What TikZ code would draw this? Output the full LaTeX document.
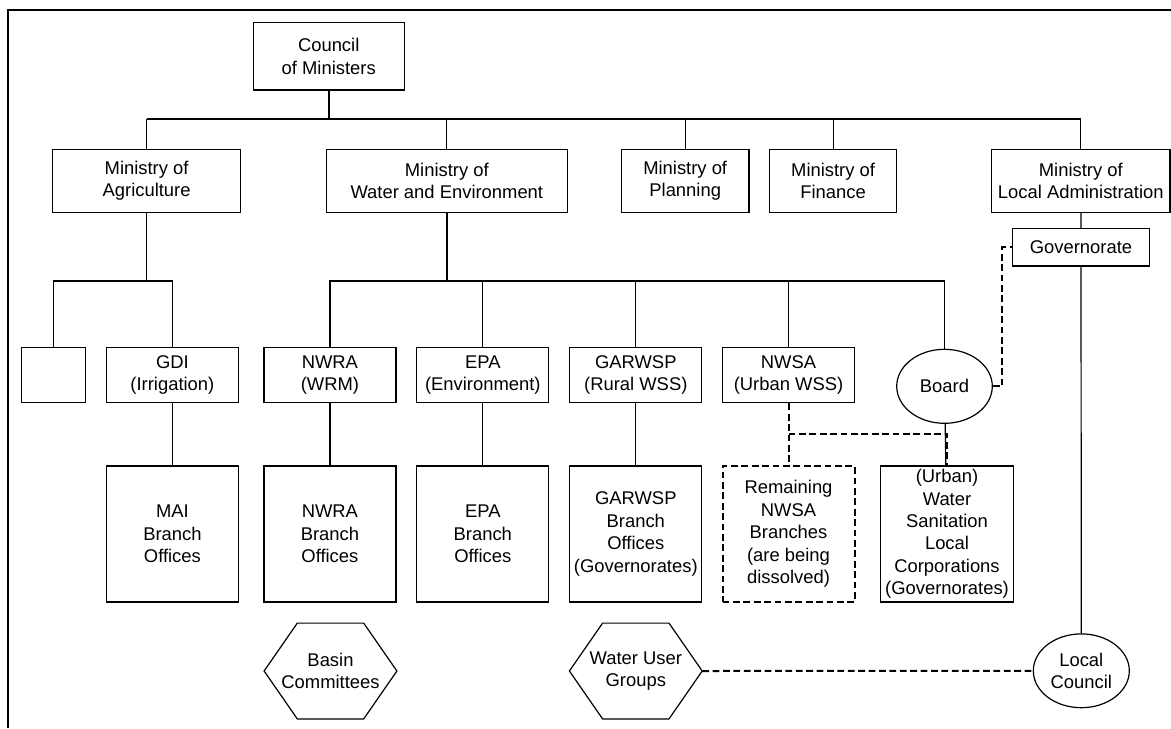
\documentclass[tikz,border=0pt]{standalone}
\usepackage{fontspec}
\setmainfont{Liberation Sans}
\usepackage{tikz}
\usetikzlibrary{shapes.geometric,calc}
\tikzset{
  unit/.style ={draw, align=center, inner sep=0pt, line width=0.6pt,
                minimum width=66pt, minimum height=27.7pt},
  mbox/.style ={unit, minimum height=31.5pt},
  office/.style={unit, minimum height=68pt},
  dunit/.style={office, dash pattern=on 3.4pt off 1.8pt, line width=1pt},
  ellip/.style={draw, ellipse, align=center, inner sep=0pt, line width=0.6pt,
                minimum width=47.8pt, minimum height=37pt},
  hexa/.style ={align=center, inner sep=0pt, minimum width=66pt, minimum height=47.5pt},
  link/.style ={line width=0.6pt},
  trunk/.style={line width=0.9pt},
  dlink/.style={line width=1pt, dash pattern=on 3.4pt off 1.8pt},
}

\begin{document}
\begin{tikzpicture}[x=0.5pt, y=-0.5pt, every node/.style={font=\fontsize{9.2}{11.2}\selectfont}]
  \useasboundingbox (0,0) rectangle (1171,728);
  \draw[link] (1171,10) -- (8,10) -- (8,728);
  % top level
  \node[unit, minimum width=75.4pt, minimum height=33.7pt] (council) at (328.7,56.3) {Council\\of Ministers};
  % ministries
  \node[mbox, minimum width=93.8pt]  (agri)     at (146.6,180.8)  {Ministry of\\Agriculture};
  \node[mbox, minimum width=120.4pt] (water)    at (446.8,180.8)  {Ministry of\\Water and Environment};
  \node[mbox, minimum width=63.7pt]  (plan)     at (685.2,180.8)  {Ministry of\\Planning};
  \node[mbox, minimum width=63.5pt]  (fin)      at (833.1,180.8)  {Ministry of\\Finance};
  \node[mbox, minimum width=89.2pt]  (localadm) at (1080.8,180.8) {Ministry of\\Local Administration};
  \node[unit, minimum width=68.3pt, minimum height=18.7pt] (gov) at (1081,247.3) {Governorate};
  % agencies
  \node[unit, minimum width=31.8pt] (blank)  at (53.6,375)  {};
  \node[unit] (gdi)    at (172.4,375) {GDI\\(Irrigation)};
  \node[unit] (nwra)   at (329.9,375) {NWRA\\(WRM)};
  \node[unit] (epa)    at (482.8,375) {EPA\\(Environment)};
  \node[unit] (garwsp) at (635.8,375) {GARWSP\\(Rural WSS)};
  \node[unit] (nwsa)   at (788.5,375) {NWSA\\(Urban WSS)};
  \node[ellip] (board) at (944.5,386.3) {Board};
  % branch offices
  \node[office] (mai)     at (172.4,534) {MAI\\Branch\\Offices};
  \node[office] (nwrab)   at (329.9,534) {NWRA\\Branch\\Offices};
  \node[office] (epab)    at (482.8,534) {EPA\\Branch\\Offices};
  \node[office] (garwspb) at (635.8,534) {GARWSP\\Branch\\Offices\\(Governorates)};
  \node[dunit]  (remain)  at (788.5,534) {Remaining\\NWSA\\Branches\\(are being\\dissolved)};
  \node[office, minimum width=66.5pt] (urban) at (947,534) {(Urban)\\Water\\Sanitation\\Local\\Corporations\\(Governorates)};
  % local level
  \node[hexa]  (basin) at (330.5,671)  {Basin\\Committees};
  \node[hexa]  (wug)   at (635.8,671)  {Water User\\Groups};
  \node[ellip, minimum width=48pt, minimum height=36.9pt] (lc) at (1081.3,670.8) {Local\\Council};
  \foreach \h in {basin,wug}
    \draw[link] (\h.west) -- ($(\h.north west)!.25!(\h.north east)$) -- ($(\h.north west)!.75!(\h.north east)$)
      -- (\h.east) -- ($(\h.south west)!.75!(\h.south east)$) -- ($(\h.south west)!.25!(\h.south east)$) -- cycle;
  % council bus
  \coordinate (bus) at (0,119);
  \draw[trunk] (council) -- (council |- bus);
  \draw[trunk] (agri |- bus) -- (localadm |- bus);
  \foreach \n in {agri,water,plan,fin,localadm}
    \draw[link] (\n) -- (\n |- bus);
  % ministry buses
  \coordinate (sub) at (0,281);
  \draw[link] (agri) -- (agri |- sub);
  \draw[link] (blank) -- (blank |- sub) -- (gdi |- sub) -- (gdi);
  \draw[trunk] (water) -- (water |- sub) -- (nwsa |- sub);
  \draw[link] (nwra) -- (nwra |- sub) -- (board |- sub) -- (board);
  \foreach \n in {epa,garwsp,nwsa}
    \draw[link] (\n) -- (\n |- sub);
  \foreach \a/\b in {gdi/mai, nwra/nwrab, epa/epab, garwsp/garwspb}
    \draw[link] (\a) -- (\b);
  \draw[link] (board) -- (urban);
  % dashed ties
  \coordinate (dj) at ($(nwsa.south)!.5!(remain.north)$);
  \draw[dlink] (nwsa) -- (remain);
  \draw[dlink] (dj) -| (urban.north);
  \draw[dlink] (board.east) -- ++(9.4,0) |- (gov.west);
  \draw[link] (localadm) -- (gov);
  \draw[link] (gov) -- (lc);
  \draw[dlink] (wug.east) -- (lc.west);
\end{tikzpicture}
\end{document}
